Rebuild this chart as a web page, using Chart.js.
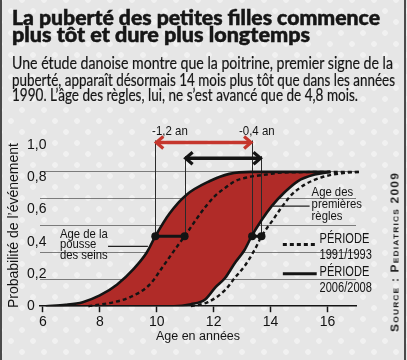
<!DOCTYPE html>
<html lang="fr"><head><meta charset="utf-8">
<script src="https://cdn.jsdelivr.net/npm/chart.js@4.4.1/dist/chart.umd.min.js"></script>
<style>
html,body{margin:0;padding:0}
body{width:407px;height:360px;overflow:hidden;position:relative;background-color:#e6e6e6;
  background-image:radial-gradient(circle,#f1f1f1 0 2.5px,transparent 3.2px),radial-gradient(circle,#f1f1f1 0 2.5px,transparent 3.2px);
  background-size:22px 22px,22px 22px;background-position:0 0,11px 11px}
#c{position:absolute;left:0;top:0}
.ln{position:absolute;left:12px;white-space:nowrap;transform-origin:0 0;color:#161616}
.tt{font-family:Lato,"Liberation Sans",sans-serif;font-weight:900;font-size:20px;line-height:20px;-webkit-text-stroke:0.5px #161616}
.st{font-family:Lato,"Liberation Sans",sans-serif;font-weight:400;font-size:17px;line-height:17px;-webkit-text-stroke:0.2px #161616}
#src{position:absolute;left:395px;top:252px;white-space:nowrap;font:bold 10px "Liberation Sans",sans-serif;font-variant:small-caps;letter-spacing:1px;color:#222}
.fr{position:absolute;top:0;width:2px;height:360px;background:#4a4a4a}
</style></head><body>
<div class="fr" style="left:0"></div><div class="fr" style="left:404px"></div>
<canvas id="c" width="407" height="360"></canvas>
<div class="ln tt" style="top:7px" data-w="368">La puberté des petites filles commence</div>
<div class="ln tt" style="top:24px" data-w="298">plus tôt et dure plus longtemps</div>
<div class="ln st" style="top:54px" data-w="381">Une étude danoise montre que la poitrine, premier signe de la</div>
<div class="ln st" style="top:71px" data-w="383">puberté, apparaît désormais 14 mois plus tôt que dans les années</div>
<div class="ln st" style="top:86px" data-w="346">1990. L’âge des règles, lui, ne s’est avancé que de 4,8 mois.</div>
<div id="src">Source : Pediatrics 2009</div>
<script>
// ---------- DATA ----------
const X_TICKS = [6, 8, 10, 12, 14, 16];
const Y_TICKS = [0, 0.2, 0.4, 0.6, 0.8, 1.0];

// Age of breast development, period 2006/2008 (solid)
const agesSeins2006 = [6.1, 6.8, 7.4, 8.0, 8.6, 9.2, 9.65, 9.95, 10.45, 11.05, 11.85, 12.55, 13.3, 16.1];
const probSeins2006 = [0, 0.01, 0.03, 0.08, 0.16, 0.28, 0.40, 0.52, 0.69, 0.83, 0.93, 0.985, 1.0, 1.0];
// Age of first periods, period 2006/2008 (solid)
const agesRegles2006 = [6.1, 10.6, 11.2, 11.7, 12.06, 12.4, 12.74, 13.09, 13.33, 13.68, 14.04, 14.5, 14.95, 15.55, 16.1];
const probRegles2006 = [0, 0, 0.015, 0.05, 0.14, 0.21, 0.32, 0.42, 0.52, 0.64, 0.745, 0.85, 0.93, 0.98, 1.0];
// Age of breast development, period 1991/1993 (dashed)
const agesSeins1991 = [7.6, 8.5, 9.05, 9.75, 10.2, 10.7, 10.98, 11.4, 11.75, 12.04, 12.4, 12.74, 13.2, 13.85, 14.4, 17.2];
const probSeins1991 = [0, 0.03, 0.066, 0.16, 0.29, 0.44, 0.52, 0.65, 0.75, 0.82, 0.88, 0.93, 0.96, 0.98, 0.995, 1.0];
// Age of first periods, period 1991/1993 (dashed)
const agesRegles1991 = [11.2, 11.8, 12.4, 12.74, 13.09, 13.44, 13.68, 14.04, 14.4, 14.74, 15.2, 15.8, 16.5, 17.2];
const probRegles1991 = [0, 0.03, 0.12, 0.21, 0.30, 0.42, 0.52, 0.63, 0.74, 0.83, 0.905, 0.96, 0.99, 1.0];

// Median ages [seins, règles]
const medianAges2006 = [9.95, 13.35];
const medianAges1991 = [10.98, 13.68];
const medianProb = 0.52;
const ecartLabels = ['-1,2 an', '-0,4 an'];
const legendLabels = [['PÉRIODE', '1991/1993'], ['PÉRIODE', '2006/2008']];
const calloutSeins = ['Age de la', 'pousse', 'des seins'];
const calloutRegles = ['Age des', 'premières', 'règles'];

// ---------- annotation placement (data units: age, probability) ----------
const PLACE = {
  arrow2006: 1.219, arrow1991: 1.102, ecartBase: 1.277,
  seins: { x: 6.6, base: [0.511, 0.431, 0.350], from: 8.29, to: 9.69, at: 0.445 },
  regles: { x: 15.44, base: [0.818, 0.730, 0.645], from: 14.04, to: 15.37, at: 0.745 },
  legend: { sx0: 14.43, sx1: 15.62, tx: 15.72, sample: [0.46, 0.241], base: [[0.467, 0.350], [0.226, 0.109]] }
};

const RED = '#b02b28', ARROWRED = '#c5362d', INK = '#141414';
const FONT = '"Liberation Sans", Arial, sans-serif';
const pts = (xs, ys) => xs.map((x, i) => ({ x, y: ys[i] }));
const fmt = v => v === 0 ? '0' : v.toFixed(1).replace('.', ',');

function condText(ctx, s, x, y, k) {
  const w = ctx.measureText(s).width;
  ctx.fillText(s, x, y, w * k);
}
function chevron(ctx, x, y, dir, len, half) {
  ctx.beginPath();
  ctx.moveTo(x - dir * len, y - half);
  ctx.lineTo(x, y);
  ctx.lineTo(x - dir * len, y + half);
  ctx.stroke();
}

const guides = {
  id: 'guides',
  beforeDatasetsDraw(chart) {
    const { ctx, scales: { x, y2 } } = chart;
    ctx.save();
    ctx.strokeStyle = '#2a2a2a';
    ctx.lineWidth = 1;
    const yb = y2.getPixelForValue(medianProb);
    [[medianAges2006, PLACE.arrow2006], [medianAges1991, PLACE.arrow1991]].forEach(([m, lvl]) => {
      m.forEach(a => {
        const px = Math.round(x.getPixelForValue(a)) + 0.5;
        ctx.beginPath(); ctx.moveTo(px, yb); ctx.lineTo(px, y2.getPixelForValue(lvl) - 2); ctx.stroke();
      });
    });
    ctx.restore();
  }
};

const annots = {
  id: 'annots',
  afterDatasetsDraw(chart) {
    const { ctx, scales: { x, y2 } } = chart;
    const X = v => x.getPixelForValue(v), Y = v => y2.getPixelForValue(v);
    ctx.save();
    // arrows
    ctx.lineCap = 'butt'; ctx.lineJoin = 'miter';
    [[medianAges2006, PLACE.arrow2006, ARROWRED], [medianAges1991, PLACE.arrow1991, INK]].forEach(([m, lvl, col]) => {
      const x0 = X(m[0]), x1 = X(m[1]), yy = Y(lvl);
      ctx.strokeStyle = col; ctx.lineWidth = 3.5;
      ctx.beginPath(); ctx.moveTo(x0 + 2, yy); ctx.lineTo(x1 - 2, yy); ctx.stroke();
      ctx.lineWidth = 3.2;
      chevron(ctx, x0 + 1, yy, -1, 7, 6);
      chevron(ctx, x1 - 1, yy, 1, 7, 6);
    });
    // shift labels
    ctx.fillStyle = INK; ctx.font = '13.5px ' + FONT; ctx.textAlign = 'center'; ctx.textBaseline = 'alphabetic';
    [0, 1].forEach(i => {
      const mid = (medianAges2006[i] + medianAges1991[i]) / 2;
      condText(ctx, ecartLabels[i], X(mid), Y(PLACE.ecartBase), 0.85);
    });
    // callouts
    ctx.font = '13px ' + FONT; ctx.textAlign = 'left';
    [[calloutSeins, PLACE.seins], [calloutRegles, PLACE.regles]].forEach(([lines, p]) => {
      lines.forEach((s, i) => condText(ctx, s, X(p.x), Y(p.base[i]), 0.87));
      ctx.strokeStyle = '#222'; ctx.lineWidth = 1.2;
      ctx.beginPath(); ctx.moveTo(X(p.from), Y(p.at)); ctx.lineTo(X(p.to), Y(p.at)); ctx.stroke();
    });
    // legend
    const L = PLACE.legend;
    const styles = [chart.data.datasets[2], chart.data.datasets[0]];
    styles.forEach((ds, i) => {
      ctx.strokeStyle = ds.borderColor; ctx.lineWidth = 3;
      ctx.setLineDash(ds.borderDash || []);
      ctx.beginPath(); ctx.moveTo(X(L.sx0), Y(L.sample[i])); ctx.lineTo(X(L.sx1), Y(L.sample[i])); ctx.stroke();
      ctx.setLineDash([]);
      ctx.font = '14px ' + FONT; ctx.fillStyle = INK; ctx.textAlign = 'left';
      legendLabels[i].forEach((s, j) => condText(ctx, s, X(L.tx), Y(L.base[i][j]), 0.79));
    });
    ctx.restore();
  }
};

new Chart(document.getElementById('c'), {
  type: 'line',
  data: {
    datasets: [
      { label: 'Pousse des seins 2006/2008', data: pts(agesSeins2006, probSeins2006), yAxisID: 'y2',
        borderColor: INK, borderWidth: 2.6, pointRadius: 0, cubicInterpolationMode: 'monotone',
        fill: 1, backgroundColor: RED },
      { label: 'Premières règles 2006/2008', data: pts(agesRegles2006, probRegles2006), yAxisID: 'y2',
        borderColor: INK, borderWidth: 2.6, pointRadius: 0, cubicInterpolationMode: 'monotone', fill: false },
      { label: 'Pousse des seins 1991/1993', data: pts(agesSeins1991, probSeins1991), yAxisID: 'y2',
        borderColor: INK, borderWidth: 2.4, borderDash: [4, 3], pointRadius: 0, cubicInterpolationMode: 'monotone',
        fill: false, clip: { left: 5, top: 5, right: 12, bottom: 5 } },
      { label: 'Premières règles 1991/1993', data: pts(agesRegles1991, probRegles1991), yAxisID: 'y2',
        borderColor: INK, borderWidth: 2.4, borderDash: [4, 3], pointRadius: 0, cubicInterpolationMode: 'monotone',
        fill: false, clip: { left: 5, top: 5, right: 12, bottom: 5 } },
      { label: 'Médiane seins', data: pts([medianAges2006[0], medianAges1991[0]], [medianProb, medianProb]),
        yAxisID: 'y2', borderColor: INK, borderWidth: 3, pointRadius: 4, pointBackgroundColor: INK, pointBorderWidth: 0, fill: false },
      { label: 'Médiane règles', data: pts([medianAges2006[1], medianAges1991[1]], [medianProb, medianProb]),
        yAxisID: 'y2', borderColor: INK, borderWidth: 3, pointRadius: 4, pointBackgroundColor: INK, pointBorderWidth: 0, fill: false }
    ]
  },
  options: {
    responsive: false, animation: false,
    layout: { padding: { top: 145, left: 4, right: 51, bottom: 16 } },
    plugins: { legend: { display: false }, tooltip: { enabled: false }, filler: { drawTime: 'beforeDatasetsDraw' } },
    scales: {
      x: {
        type: 'linear', min: 5.9, max: 17.0,
        afterBuildTicks: s => { s.ticks = X_TICKS.map(v => ({ value: v })); },
        ticks: { color: INK, font: { size: 14, family: FONT }, padding: 2, maxRotation: 0, callback: v => String(v) },
        grid: { drawOnChartArea: false, drawTicks: true, tickLength: 6, tickColor: INK, tickWidth: 1.5 },
        border: { display: true, color: INK, width: 1.5 },
        title: { display: true, text: 'Age en années', color: INK, font: { size: 12.5, family: FONT }, padding: { top: -4, bottom: 0 } }
      },
      y: {
        position: 'left', min: 0, max: 1.0,
        afterBuildTicks: s => { s.ticks = Y_TICKS.map(v => ({ value: v })); },
        afterFit: s => { s.width = 36; },
        ticks: { color: INK, font: { size: 14, family: FONT }, mirror: true, padding: -13, callback: v => fmt(v) },
        grid: { display: false, drawTicks: false },
        border: { display: false },
        title: { display: true, text: 'Probabilité de l’événement', color: INK, font: { size: 14, family: FONT }, padding: { top: 2, bottom: 0 } }
      },
      y2: {
        position: 'left', min: 0, max: 1.2,
        afterBuildTicks: s => { s.ticks = [0.2, 0.4, 0.6, 0.8, 1.0].map(v => ({ value: v })); },
        afterFit: s => { s.width = 0; },
        ticks: { display: false },
        grid: { drawTicks: false, color: 'rgba(70,70,70,0.75)', lineWidth: 0.9, borderDash: [3, 2] },
        border: { display: false }
      }
    }
  },
  plugins: [guides, annots]
});

// fit condensed headline lines to their widths
document.querySelectorAll('.ln').forEach(el => {
  el.style.display = 'inline-block';
  const w = el.getBoundingClientRect().width;
  el.style.transform = 'scaleX(' + (parseFloat(el.dataset.w) / w) + ')';
});
(function () {
  const el = document.getElementById('src');
  const w = el.getBoundingClientRect().width;
  el.style.transform = 'translate(-50%,-50%) rotate(-90deg) scaleX(' + (160 / w) + ')';
})();
</script>
</body></html>
